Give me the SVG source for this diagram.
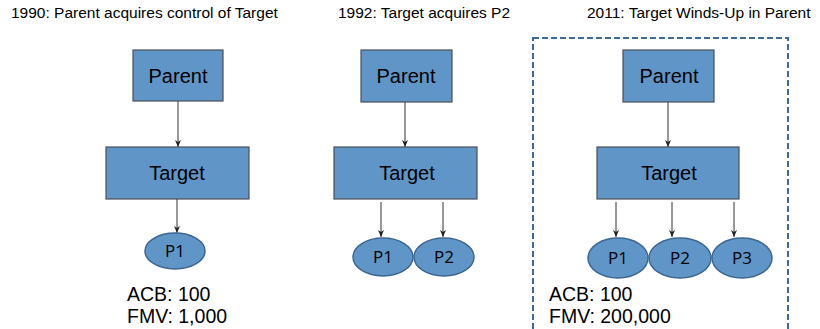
<svg xmlns="http://www.w3.org/2000/svg" width="820" height="329" viewBox="0 0 820 329">
<style>
.t{font-family:"Liberation Sans",Arial,sans-serif;fill:#000}
.title{font-size:15.5px}
.box{fill:#5f95c7;stroke:#4a4f55;stroke-width:1.2}
.ell{fill:#5f95c7;stroke:#3d6791;stroke-width:1.5}
.lbl{font-size:20px;text-anchor:middle}
.pl{font-size:17px;text-anchor:middle;font-family:"Open Sans","DejaVu Sans",sans-serif}
.big{font-size:19.5px}
.c{stroke:#333;stroke-width:1;fill:none;marker-end:url(#ah)}
</style>
<defs>
<marker id="ah" viewBox="0 0 8 8" refX="7" refY="4" markerWidth="8" markerHeight="8" markerUnits="userSpaceOnUse" orient="auto">
<path d="M0,1 L7,4 L0,7 L2,4 Z" fill="#222"/>
</marker>
</defs>
<rect width="820" height="329" fill="#fff"/>
<text class="t title" x="11" y="18">1990: Parent acquires control of Target</text>
<text class="t title" x="338" y="18">1992: Target acquires P2</text>
<text class="t title" x="587" y="18">2011: Target Winds-Up in Parent</text>
<rect id="frame" x="533" y="38" width="255" height="300" fill="none" stroke="#3d6a9a" stroke-width="2" stroke-dasharray="6,3"/>
<g id="connectors">
<line class="c" x1="178" y1="101" x2="178" y2="147"/>
<line class="c" x1="177" y1="199" x2="177" y2="233"/>
<line class="c" x1="405" y1="102" x2="405" y2="147"/>
<line class="c" x1="381" y1="202" x2="381" y2="237"/>
<line class="c" x1="443" y1="202" x2="443" y2="237"/>
<line class="c" x1="668" y1="102" x2="668" y2="147"/>
<line class="c" x1="616" y1="202" x2="616" y2="237"/>
<line class="c" x1="672" y1="202" x2="672" y2="237"/>
<line class="c" x1="734" y1="202" x2="734" y2="237"/>
</g>
<g id="parent1"><rect class="box" x="133" y="50" width="90" height="51"/><text class="t lbl" x="178" y="83">Parent</text></g>
<g id="target1"><rect class="box" x="106" y="147" width="143" height="52"/><text class="t lbl" x="177" y="180">Target</text></g>
<g id="p1a"><ellipse class="ell" cx="175" cy="251" rx="30" ry="18"/><text class="t pl" x="175" y="257">P1</text></g>
<g id="parent2"><rect class="box" x="361" y="50" width="91" height="52"/><text class="t lbl" x="406" y="83">Parent</text></g>
<g id="target2"><rect class="box" x="334" y="147" width="143" height="52"/><text class="t lbl" x="407" y="180">Target</text></g>
<g id="p1b"><ellipse class="ell" cx="383" cy="257" rx="30" ry="19"/><text class="t pl" x="383" y="263">P1</text></g>
<g id="p2b"><ellipse class="ell" cx="444" cy="257" rx="30" ry="19"/><text class="t pl" x="444" y="263">P2</text></g>
<g id="parent3"><rect class="box" x="623" y="50" width="91" height="52"/><text class="t lbl" x="669" y="83">Parent</text></g>
<g id="target3"><rect class="box" x="597" y="147" width="142" height="52"/><text class="t lbl" x="669" y="180">Target</text></g>
<g id="p1c"><ellipse class="ell" cx="618" cy="258" rx="30" ry="20"/><text class="t pl" x="618" y="264">P1</text></g>
<g id="p2c"><ellipse class="ell" cx="680" cy="258" rx="31" ry="20"/><text class="t pl" x="680" y="264">P2</text></g>
<g id="p3c"><ellipse class="ell" cx="742" cy="258" rx="30" ry="20"/><text class="t pl" x="742" y="264">P3</text></g>
<g id="values1"><text class="t big" x="127" y="301">ACB: 100</text><text class="t big" x="127" y="323">FMV: 1,000</text></g>
<g id="values3"><text class="t big" x="549" y="301">ACB: 100</text><text class="t big" x="549" y="323">FMV: 200,000</text></g>
</svg>
